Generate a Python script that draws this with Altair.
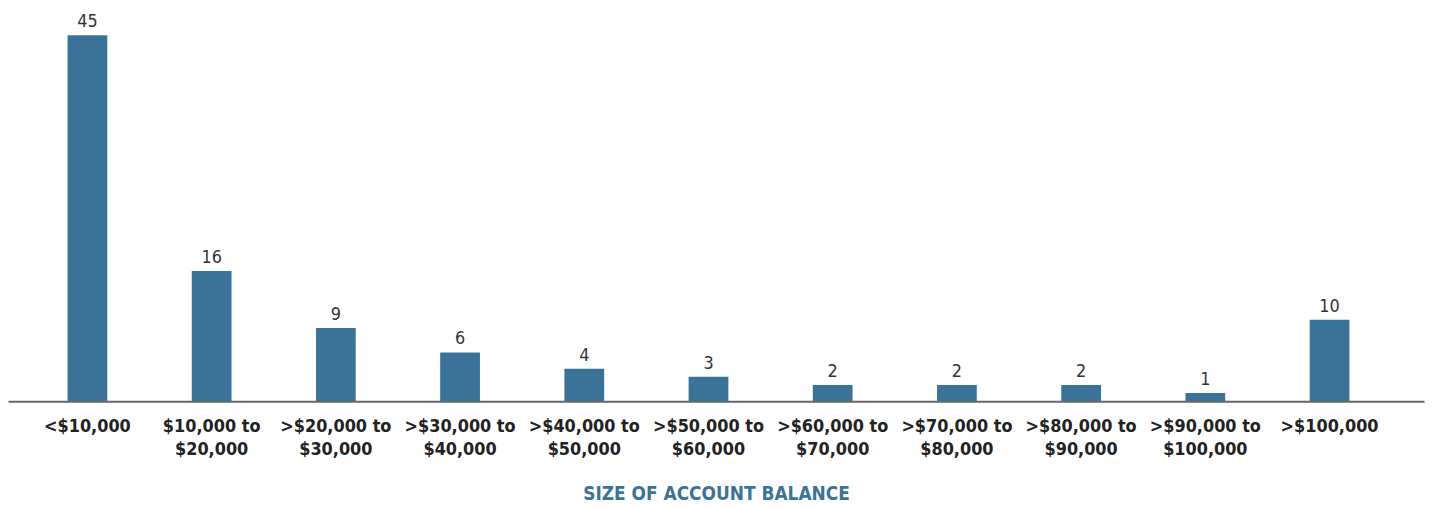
import altair as alt
import pandas as pd

categories = [
    "<$10,000",
    "$10,000 to\n$20,000",
    ">$20,000 to\n$30,000",
    ">$30,000 to\n$40,000",
    ">$40,000 to\n$50,000",
    ">$50,000 to\n$60,000",
    ">$60,000 to\n$70,000",
    ">$70,000 to\n$80,000",
    ">$80,000 to\n$90,000",
    ">$90,000 to\n$100,000",
    ">$100,000",
]
values = [45, 16, 9, 6, 4, 3, 2, 2, 2, 1, 10]

df = pd.DataFrame({"cat": categories, "val": values})

FONT = "DejaVu Sans Condensed"
BLUE = "#3b7398"

x = alt.X(
    "cat:N",
    sort=categories,
    scale=alt.Scale(paddingInner=0.68, paddingOuter=0.54, align=0.444),
    axis=alt.Axis(
        title="SIZE OF ACCOUNT BALANCE",
        labelExpr="split(datum.value, '\\n')",
        labelAngle=0,
        labelFont=FONT,
        labelFontSize=18,
        labelFontWeight="bold",
        labelColor="#222222",
        labelBaseline="top",
        labelPadding=16,
        labelLineHeight=24,
        ticks=False,
        domainColor="#666666",
        domainWidth=2,
        titleFont=FONT,
        titleFontSize=19,
        titleFontWeight="bold",
        titleColor=BLUE,
        titlePadding=26,
        grid=False,
    ),
)
y = alt.Y("val:Q", scale=alt.Scale(domain=[0, 45], nice=False), axis=None)

bars = alt.Chart(df).mark_bar(color=BLUE).encode(x=x, y=y)
labels = alt.Chart(df).mark_text(
    dy=-4, baseline="bottom", font=FONT, fontSize=18, color="#333333"
).encode(x=alt.X("cat:N", sort=categories), y=y, text="val:Q")

chart = (
    alt.layer(bars, labels)
    .properties(
        width=1424,
        height=368,
        padding={"left": 0, "top": 26, "right": 3, "bottom": 106},
        autosize=alt.AutoSizeParams(type="none"),
    )
    .configure(background="white")
    .configure_view(stroke=None)
)

chart.save("out.html", embed_options={"renderer": "svg", "actions": False})
